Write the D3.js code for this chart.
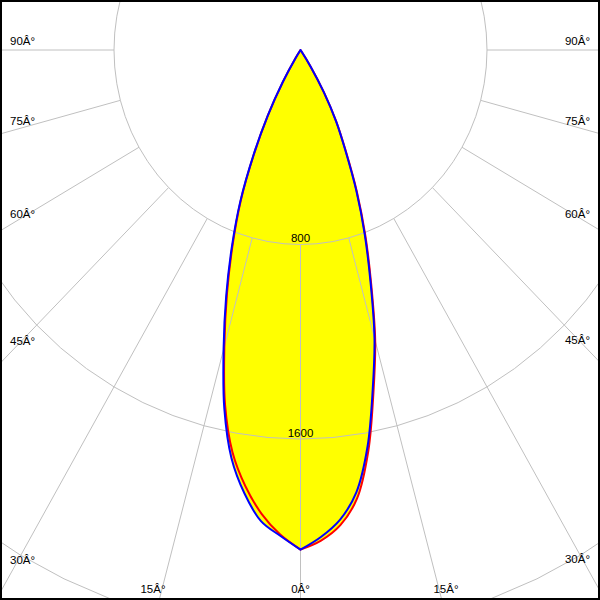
<!DOCTYPE html>
<html><head><meta charset="utf-8">
<script src="https://cdn.jsdelivr.net/npm/d3@7/dist/d3.min.js"></script>
<style>body{margin:0;background:#fff}svg{display:block}text{font-family:"Liberation Sans",Arial,sans-serif;font-size:11.5px;fill:#000}</style>
</head><body><svg id="c" width="600" height="600"></svg>
<script>
// gamma angles (degrees from nadir)
const angles = [0,2.5,5,7.5,10,12.5,15,17.5,20,22.5,25,27.5,30,32.5,35,37.5];
// C90/C270 (blue) and C0/C180 (red) intensities, cd
const blueLeft  = [2055,2000,1945,1840,1705,1510,1275,1060,860,675,478,305,152,40,0,0];
const blueRight = [2055,2005,1940,1835,1656,1431,1226,998,804,625,455,330,200,80,10,0];
const redLeft   = [2055,1995,1915,1810,1680,1495,1262,1048,850,668,472,300,150,40,0,0];
const redRight  = [2055,2020,1962,1860,1675,1445,1238,1008,814,633,462,334,200,80,10,0];
const ringValues = [800,1600,2400];
const ringLabels = ["800","1600"];
const spokeAngles = [0,15,30,45,60,75,90];
const spokeLabels = ["0Â°","15Â°","30Â°","45Â°","60Â°","75Â°","90Â°"];

const cx=300.5,cy=50;
const svg=d3.select("#c");
const x=d3.scaleLinear().domain([-800,800]).range([cx-186.5,cx+186.5]);
const y=d3.scaleLinear().domain([0,800]).range([cy,cy+194.5]);
const rad=d=>d*Math.PI/180;
const pt=(a,I)=>[x(I*Math.sin(rad(a))),y(I*Math.cos(rad(a)))];

function half(vals,sign){
  const p=[];
  for(let i=0;i<angles.length;i++){
    p.push(pt(sign*angles[i],vals[i]));
    if(vals[i]===0) break;
  }
  return p;
}
const smooth=d3.line().curve(d3.curveCatmullRom.alpha(0.5));
const halves=(left,right)=>[half(left,-1),half(right,1)];
const blue=halves(blueLeft,blueRight), red=halves(redLeft,redRight);

// yellow fill
[red,blue].forEach(h=>{
  const d=smooth(h[0].slice().reverse())+smooth(h[1]).replace(/^M/,"L")+"Z";
  svg.append("path").attr("d",d).attr("fill","#ffff00").attr("stroke","none");
});

// grid rings
const lin=d3.line();
const g=svg.append("g").attr("fill","none").attr("stroke","#c0c0c0").attr("stroke-width",1);
ringValues.forEach(r=>{
  const p=d3.range(0,361,5).map(a=>pt(a,r));
  g.append("path").attr("d",lin(p));
});
// spokes
spokeAngles.forEach(a=>{
  [-1,1].forEach(s=>{
    if(a===0&&s<0) return;
    const p0=pt(s*a,800), p1=pt(s*a,6000);
    g.append("line").attr("x1",p0[0]).attr("y1",p0[1]).attr("x2",p1[0]).attr("y2",p1[1]);
  });
});

// curves
function drawCurve(h,color){
  const d=smooth(h[0].slice().reverse())+smooth(h[1]).replace(/^M/,"L");
  svg.append("path").attr("d",d).attr("fill","none").attr("stroke",color)
    .attr("stroke-width",2).attr("stroke-linejoin","round").attr("stroke-linecap","round");
}
drawCurve(red,"#ff0000");
drawCurve(blue,"#0000ff");

// ring labels
ringLabels.forEach((t,i)=>{
  svg.append("text").attr("x",x(0)).attr("y",y(ringValues[i])-2.5).attr("text-anchor","middle").text(t);
});

// spoke labels
spokeAngles.forEach((a,i)=>{
  const t=spokeLabels[i];
  if(a===0){
    svg.append("text").attr("x",x(0)).attr("y",593).attr("text-anchor","middle").text(t);
    return;
  }
  const slope=(y(Math.cos(rad(a)))-y(0))/(x(Math.sin(rad(a)))-x(0));
  const yl=cy+slope*(cx-13);
  if(yl<=590){
    svg.append("text").attr("x",10).attr("y",yl-5).attr("text-anchor","start").text(t);
    const yr=cy+slope*(587-cx);
    svg.append("text").attr("x",590).attr("y",yr-5).attr("text-anchor","end").text(t);
  } else {
    const lx=cx-(593-cy)/slope, rxp=cx+(593-cy)/slope;
    svg.append("text").attr("x",lx-8).attr("y",593).attr("text-anchor","middle").text(t);
    svg.append("text").attr("x",rxp+6).attr("y",593).attr("text-anchor","middle").text(t);
  }
});

// frame
svg.append("rect").attr("x",1).attr("y",1).attr("width",598).attr("height",598).attr("fill","none").attr("stroke","#000").attr("stroke-width",2);
</script></body></html>
